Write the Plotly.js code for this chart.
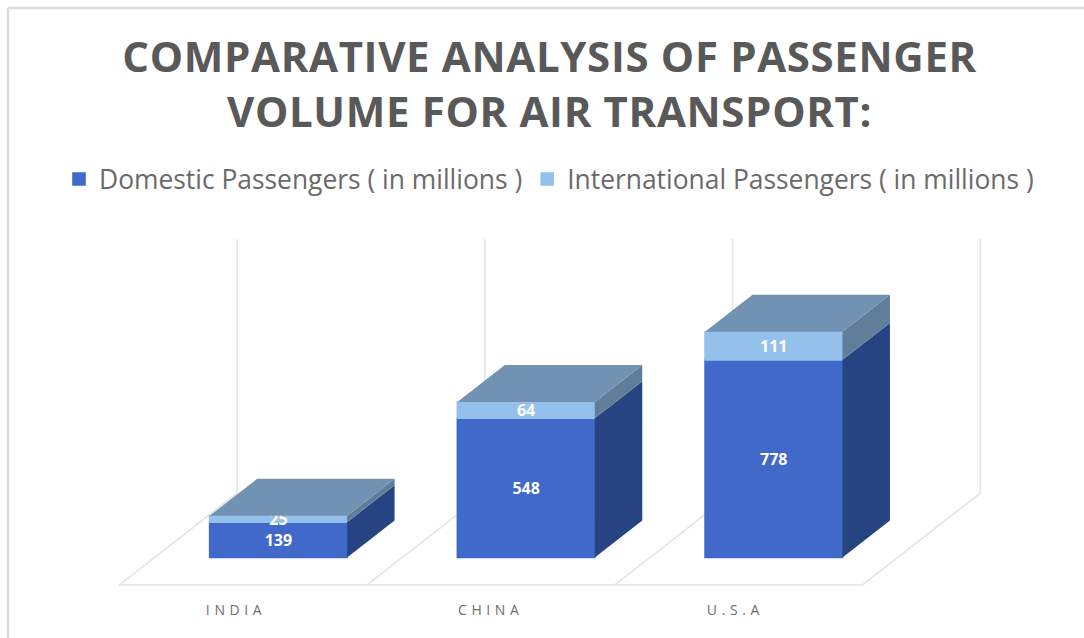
<!DOCTYPE html>
<html>
<head>
<meta charset="utf-8">
<script src="https://cdn.plot.ly/plotly-3.0.1.min.js"></script>
<style>
  html, body { margin: 0; padding: 0; background: #fff; }
  #chart { width: 1084px; height: 638px; }
  .gtitle { letter-spacing: 0.65px; }
  .xtick text { letter-spacing: 4.6px; }
</style>
</head>
<body>
<div id="chart"></div>
<script>
// Passenger volume per country, in millions
const categories = ["INDIA", "CHINA", "U.S.A"];
const domestic = [139, 548, 778];
const international = [25, 64, 111];
const seriesNames = ["Domestic Passengers ( in millions )", "International Passengers ( in millions )"];
const chartTitle = "COMPARATIVE ANALYSIS OF PASSENGER<br>VOLUME FOR AIR TRANSPORT:";

const wallTop = 1000;
const tickPositions = [-0.028, 1, 1.988];

// Oblique projection: one unit of depth moves a point right and up in axis units
const depthX = 0.4764;
const depthY = 362;
const barFront = 0.30;
const barBack = 0.702;
const barWidth = 0.555;
const barEdge = 1.6;

const colors = {
  domestic: "#4069CA", international: "#94C1EB", top: "#7192B3",
  sideLow: "#264481", sideHigh: "#607D99", grid: "#E4E4E4", frame: "#DCDCDC",
  title: "#595959", legend: "#6A6A6A", tick: "#6E6E6E"
};

// Maps a (category position, value, depth) triple on to the two plot axes
function project(pos, value, depth) {
  return [pos + depth * depthX, value + depth * depthY];
}
const shiftX = barFront * depthX;
const shiftY = barFront * depthY;

function polygon(pts, color) {
  return {
    type: "scatter", mode: "lines", fill: "toself", fillcolor: color,
    x: pts.map(p => p[0]), y: pts.map(p => p[1]),
    line: { width: 0, color: color }, showlegend: false, hoverinfo: "skip"
  };
}

// Right-hand face of one box section
function sideFace(i, low, high) {
  const edge = i + barWidth / 2;
  return polygon([project(edge, low, barFront), project(edge, low, barBack),
                  project(edge, high, barBack), project(edge, high, barFront)],
                 low === 0 ? colors.sideLow : colors.sideHigh);
}

// Lid of one box
function topFace(i, high) {
  const a = i - barWidth / 2, b = i + barWidth / 2;
  return polygon([project(a, high, barFront), project(b, high, barFront),
                  project(b, high, barBack), project(a, high, barBack)], colors.top);
}

// Front faces are real bars, lifted and moved to the front plane of each box
const positions = categories.map((_, i) => i + shiftX);
const labelFont = { family: "Open Sans", size: 16, color: "#fff", weight: 700 };
const traces = [
  {
    type: "bar", name: seriesNames[0], x: positions, y: domestic,
    base: domestic.map(() => shiftY), width: barWidth,
    marker: { color: colors.domestic, line: { width: barEdge, color: colors.domestic } },
    text: domestic.map(String), textposition: "inside", insidetextanchor: "middle",
    constraintext: "none", textangle: 0, textfont: labelFont
  },
  {
    type: "bar", name: seriesNames[1], x: positions, y: international,
    base: domestic.map(v => v + shiftY), width: barWidth,
    marker: { color: colors.international, line: { width: barEdge, color: colors.international } },
    text: international.map(String), textposition: "inside", insidetextanchor: "middle",
    constraintext: "none", textangle: 0, textfont: labelFont
  }
];
categories.forEach((_, i) => {
  const total = domestic[i] + international[i];
  traces.push(sideFace(i, 0, domestic[i]));
  traces.push(sideFace(i, domestic[i], total));
  traces.push(topFace(i, total));
});

// Floor outline and the vertical wall lines sit behind the boxes
function gridLine(p, q) {
  return {
    type: "line", layer: "below", xref: "x", yref: "y",
    x0: p[0], y0: p[1], x1: q[0], y1: q[1],
    line: { color: colors.grid, width: 1.6 }
  };
}
const shapes = [
  gridLine(project(-0.5, 0, 0), project(categories.length - 0.5, 0, 0)),
  { type: "line", xref: "paper", yref: "paper", layer: "below",
    x0: -0.052, x1: 1.03, y0: 1.6, y1: 1.6, line: { color: colors.frame, width: 2.4 } },
  { type: "line", xref: "paper", yref: "paper", layer: "below",
    x0: -0.052, x1: -0.052, y0: 1.6, y1: -0.12, line: { color: colors.frame, width: 2.4 } }
];
for (let i = 0; i <= categories.length; i++) {
  const pos = i - 0.5;
  shapes.push(gridLine(project(pos, 0, 0), project(pos, 0, 1)));
  shapes.push(gridLine(project(pos, 0, 1), project(pos, wallTop, 1)));
}

const layout = {
  width: 1084, height: 638,
  paper_bgcolor: "#fff", plot_bgcolor: "rgba(0,0,0,0)",
  margin: { l: 60, r: 24, t: 230, b: 38, pad: 0 },
  barmode: "overlay",
  title: {
    text: chartTitle, x: 0.507, xanchor: "center", y: 0.965, yanchor: "top",
    pad: { t: 50 },
    font: { family: "Open Sans", size: 42, color: colors.title, weight: 700 }
  },
  legend: {
    orientation: "h", x: 0.489, xanchor: "center", y: 1.137, yanchor: "middle",
    font: { family: "Open Sans", size: 26.4, color: colors.legend },
    traceorder: "normal", bgcolor: "rgba(0,0,0,0)"
  },
  xaxis: {
    type: "linear", range: [-0.7388, 3.2984], tickmode: "array",
    tickvals: tickPositions, ticktext: categories, tickangle: 0,
    showgrid: false, zeroline: false, showline: false, ticks: "",
    tickfont: { family: "Open Sans", size: 14, color: colors.tick }, fixedrange: true
  },
  yaxis: {
    range: [-59, 1398], visible: false, showgrid: false, zeroline: false, fixedrange: true
  },
  shapes: shapes,
  hovermode: false
};

Plotly.newPlot("chart", traces, layout, { displayModeBar: false, staticPlot: true });
</script>
</body>
</html>
